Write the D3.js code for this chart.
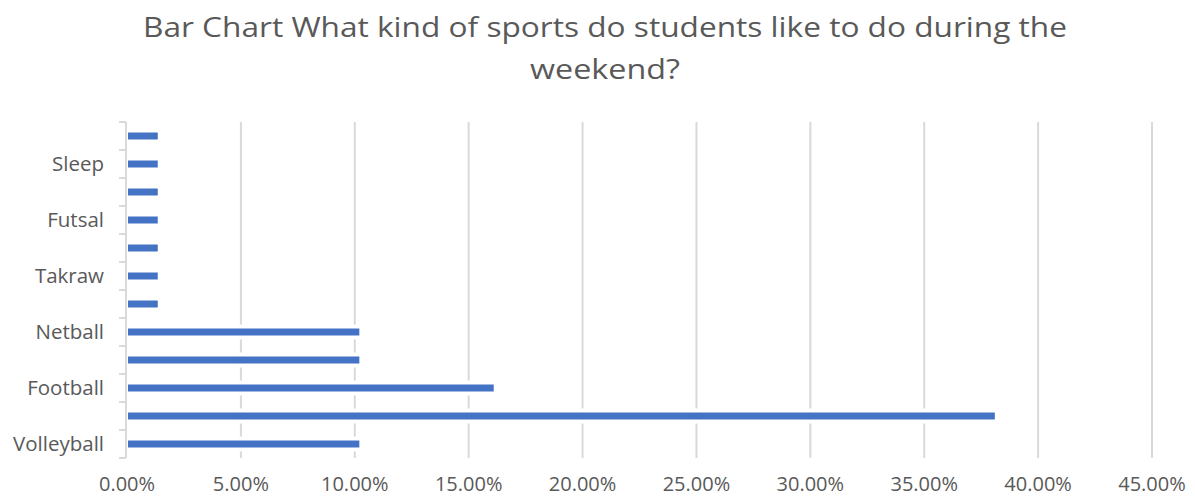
<!DOCTYPE html>
<html>
<head>
<meta charset="utf-8">
<script src="https://cdn.jsdelivr.net/npm/d3@7"></script>
<style>
  body { margin: 0; background: #fff; }
  text { font-family: "Open Sans", "Noto Sans", sans-serif; fill: #595959; }
</style>
</head>
<body>
<div id="chart"></div>
<script>
// categories from bottom to top; names of the hidden (skipped) labels are not readable
let categories = ["Volleyball", "", "Football", "", "Netball", "", "Takraw", "", "Futsal", "", "Sleep", ""];
let values = [10.2, 38.1, 16.1, 10.2, 10.2, 1.35, 1.35, 1.35, 1.35, 1.35, 1.35, 1.35];
let xTicks = [0, 5, 10, 15, 20, 25, 30, 35, 40, 45];
let titleLines = ["Bar Chart What kind of sports do students like to do during the", "weekend?"];

function drawChart(width, height) {
    let margin = {top: 122, right: 43, bottom: 40, left: 127};
    let svg = d3.select("#chart").append("svg")
        .attr("width", width)
        .attr("height", height);

    let x = d3.scaleLinear()
        .domain([0, 45])
        .range([margin.left, width - margin.right]);
    let idx = d3.range(categories.length);
    let y = d3.scaleBand()
        .domain(idx)
        .range([height - margin.bottom, margin.top]);

    // vertical gridlines
    svg.append("g")
        .selectAll("line")
        .data(xTicks.slice(1))
        .enter()
        .append("line")
        .attr("x1", d => x(d)).attr("x2", d => x(d))
        .attr("y1", margin.top).attr("y2", height - margin.bottom)
        .style("stroke", "#d9d9d9")
        .style("stroke-width", 2);

    // white halo behind bars (cuts the gridlines like the original)
    let barH = 7;
    svg.append("g")
        .selectAll("rect")
        .data(idx)
        .enter()
        .append("rect")
        .attr("x", x(0) + 2)
        .attr("y", d => y(d) + y.bandwidth() / 2 - barH / 2 - 4)
        .attr("width", d => x(values[d]) - x(0) - 1)
        .attr("height", barH + 8)
        .style("fill", "#fff");

    svg.append("g")
        .selectAll("rect")
        .data(idx)
        .enter()
        .append("rect")
        .attr("x", x(0) + 1)
        .attr("y", d => y(d) + y.bandwidth() / 2 - barH / 2)
        .attr("width", d => x(values[d]) - x(0) - 1)
        .attr("height", barH)
        .style("fill", "#4472c4");

    // y axis line + tick marks at band edges
    let yAxis = svg.append("g");
    yAxis.append("line")
        .attr("x1", x(0) - 1).attr("x2", x(0) - 1)
        .attr("y1", margin.top).attr("y2", height - margin.bottom)
        .style("stroke", "#d9d9d9").style("stroke-width", 2);
    yAxis.selectAll(".tk")
        .data(d3.range(categories.length + 1))
        .enter()
        .append("line")
        .attr("x1", x(0) - 8).attr("x2", x(0) - 1)
        .attr("y1", d => height - margin.bottom - d * y.step())
        .attr("y2", d => height - margin.bottom - d * y.step())
        .style("stroke", "#d9d9d9").style("stroke-width", 2);
    yAxis.selectAll(".lbl")
        .data(idx.filter(d => categories[d] !== ""))
        .enter()
        .append("text")
        .attr("x", 104)
        .attr("y", d => y(d) + y.bandwidth() / 2)
        .attr("dy", "0.35em")
        .style("text-anchor", "end")
        .style("font-size", "20.5px")
        .text(d => categories[d]);

    // x tick labels
    svg.append("g")
        .selectAll("text")
        .data(xTicks)
        .enter()
        .append("text")
        .attr("x", d => x(d))
        .attr("y", 491)
        .style("text-anchor", "middle")
        .style("font-size", "20px")
        .text(d => d3.format(".2f")(d) + "%");

    // title
    svg.append("text")
        .attr("x", 605).attr("y", 37)
        .style("text-anchor", "middle")
        .style("font-size", "28px")
        .attr("textLength", 924)
        .attr("lengthAdjust", "spacingAndGlyphs")
        .text(titleLines[0]);
    svg.append("text")
        .attr("x", 605).attr("y", 79)
        .style("text-anchor", "middle")
        .style("font-size", "28px")
        .attr("textLength", 150)
        .attr("lengthAdjust", "spacingAndGlyphs")
        .text(titleLines[1]);
}

drawChart(1195, 498);
</script>
</body>
</html>
